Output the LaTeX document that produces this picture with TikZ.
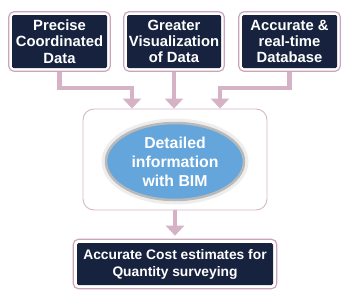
\documentclass[tikz,border=0pt]{standalone}
\usepackage{fontspec}
\setmainfont{Liberation Sans}
\usetikzlibrary{arrows.meta,fit,shapes.geometric}
\definecolor{navy}{RGB}{23,34,63}
\definecolor{framepink}{RGB}{203,164,186}
\definecolor{arrowpink}{RGB}{214,178,198}
\definecolor{bimblue}{RGB}{100,166,219}
\definecolor{rimgray}{RGB}{185,185,185}
\tikzset{
  darkbox/.style={draw=none, fill=navy, rounded corners=1.5pt, text=white,
    font=\bfseries\fontsize{14.8}{16.3}\selectfont, align=center, inner sep=0pt},
  frame/.style={draw=framepink, line width=1.2pt, fill=none, rounded corners=5pt, inner sep=3pt},
  conn/.style={draw=arrowpink, line width=4.5pt, -{Triangle[width=18pt,length=10pt]}},
  bigframe/.style={draw=framepink!80, line width=0.9pt, rounded corners=11pt,
    minimum width=184pt, minimum height=101pt, inner sep=0pt},
  bimell/.style={ellipse, fill=bimblue, draw=rimgray, line width=2.5pt,
    minimum width=138pt, minimum height=77pt, inner sep=0pt, text=white,
    font=\bfseries\fontsize{15.8}{19}\selectfont, align=center},
}
\begin{document}
\begin{tikzpicture}[x=1pt,y=-1pt]
\useasboundingbox (0,0) rectangle (350,300);
% top boxes
\node[darkbox, minimum width=95pt, minimum height=53pt] (a) at (59.5,41.5) {Precise\\Coordinated\\Data};
\node[darkbox, minimum width=94pt, minimum height=53pt] (b) at (174,41.5) {Greater\\Visualization\\of Data};
\node[darkbox, minimum width=95pt, minimum height=53pt] (c) at (289.5,41.5) {Accurate \&\\real-time\\Database};
\node[frame, fit=(a)] (af) {};
\node[frame, fit=(b)] (bf) {};
\node[frame, fit=(c)] (cf) {};
% middle
\node[bigframe] (mid) at (175,159.5) {};
\draw[rimgray, opacity=0.25, line width=7pt] (175,161.5) ellipse (70pt and 39.5pt);
\node[bimell] (bim) at (175,161.5) {Detailed\\information\\with BIM};
% bottom
\node[darkbox, minimum width=196pt, minimum height=42pt,
  font=\bfseries\fontsize{13.8}{17}\selectfont] (d) at (175,264) {Accurate Cost estimates for\\Quantity surveying};
\node[frame, fit=(d), inner sep=3.5pt] (df) {};
% connectors
\draw[conn] (af.south) -- ++(0,16) -| ([xshift=-43pt]mid.north);
\draw[conn] (bf.south) -- (bf.south |- mid.north);
\draw[conn] (cf.south) -- ++(0,16) -| ([xshift=45pt]mid.north);
\draw[conn] (mid.south) -- ([yshift=3pt]df.north);
\end{tikzpicture}
\end{document}
